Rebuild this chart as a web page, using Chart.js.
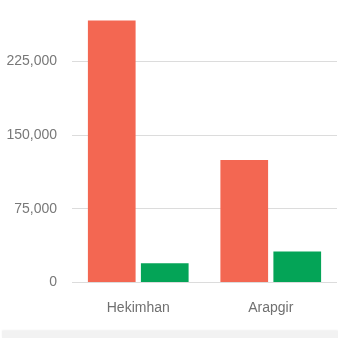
<!DOCTYPE html>
<html>
<head>
<meta charset="utf-8">
<script src="https://cdn.jsdelivr.net/npm/chart.js@4/dist/chart.umd.min.js"></script>
<style>
  html, body { margin: 0; padding: 0; background: #fff; }
  #wrap { position: relative; width: 338px; height: 331px; }
  #band { position: absolute; left: 2px; top: 331px; width: 336px; height: 7px; background: #f2f2f2; box-shadow: 0 -1px 2px rgba(0,0,0,0.06); }
</style>
</head>
<body>
<div id="wrap"><canvas id="c" width="338" height="331"></canvas></div>
<div id="band"></div>
<script>
const categories = ["Hekimhan", "Arapgir"];
const seriesRed = [266500, 124500];
const seriesGreen = [19500, 31500];
const tickValues = [0, 75000, 150000, 225000];

new Chart(document.getElementById('c'), {
  type: 'bar',
  data: {
    labels: categories,
    datasets: [
      { data: seriesRed, backgroundColor: '#f36752', borderWidth: 0 },
      { data: seriesGreen, backgroundColor: '#04a457', borderWidth: 0 }
    ]
  },
  options: {
    responsive: false,
    animation: false,
    devicePixelRatio: 1,
    layout: { padding: { top: 17, right: 1, left: 0, bottom: 0 } },
    plugins: { legend: { display: false }, tooltip: { enabled: false } },
    scales: {
      x: {
        grid: { display: false, drawTicks: false },
        border: { display: false },
        ticks: { color: '#707070', font: { family: 'Liberation Sans, Arial, sans-serif', size: 14 }, padding: 17 },
        afterFit: (s) => { s.height = 48.5; }
      },
      y: {
        min: 0,
        max: 270000,
        afterBuildTicks: (s) => { s.ticks = tickValues.map(v => ({ value: v })); },
        grid: { color: '#dcdcdc', drawTicks: false, lineWidth: 1 },
        border: { display: false },
        ticks: {
          color: '#787878',
          font: { family: 'Liberation Sans, Arial, sans-serif', size: 14 },
          padding: 15,
          callback: (v) => Number(v).toLocaleString('en-US')
        },
        afterFit: (s) => { s.width = 72; s.paddingTop = 0; s.paddingBottom = 0; }
      }
    }
  }
});
</script>
</body>
</html>
